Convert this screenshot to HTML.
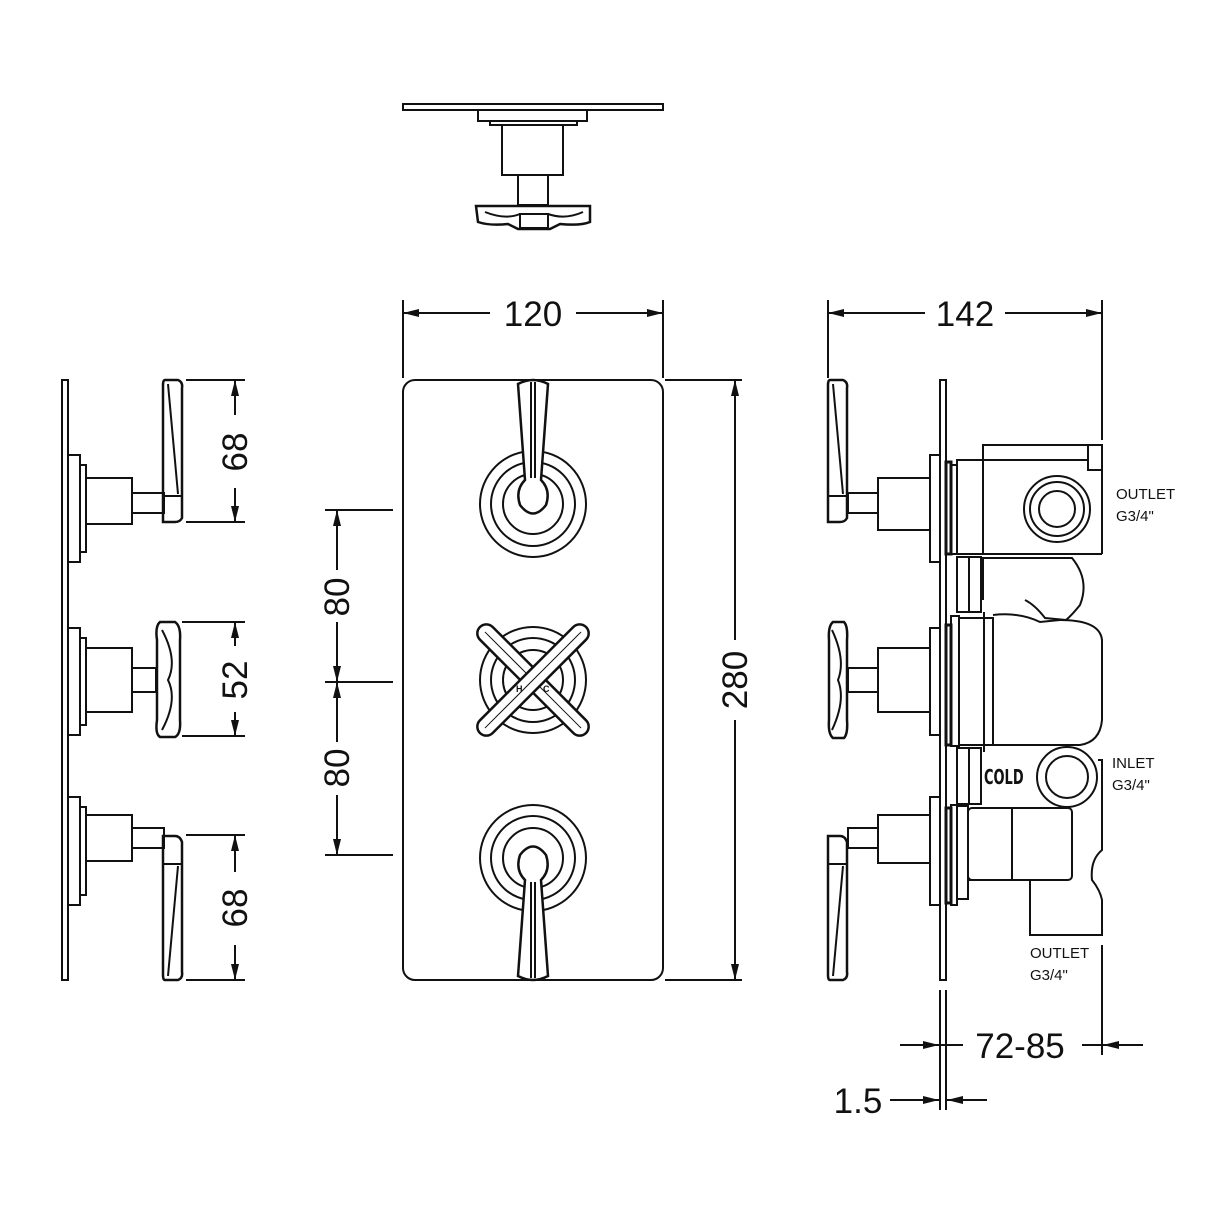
<!DOCTYPE html>
<html><head><meta charset="utf-8"><style>
html,body{margin:0;padding:0;background:#fff}
svg{display:block}
text{font-family:"Liberation Sans",sans-serif;fill:#111}
</style></head><body>
<svg width="1214" height="1214" viewBox="0 0 1214 1214" xmlns="http://www.w3.org/2000/svg">
<defs>
<marker id="b" viewBox="0 0 10 10" refX="10" refY="5" markerWidth="16" markerHeight="16" orient="auto-start-reverse" markerUnits="userSpaceOnUse"><path d="M0,2.5 L10,5 L0,7.5 z" fill="#111"/></marker>
</defs>
<g fill="none" stroke="#111" stroke-width="2">
<!-- TOP VIEW -->
<rect x="403" y="104" width="260" height="6"/>
<rect x="478" y="110" width="109" height="11"/>
<rect x="490" y="121" width="87" height="4"/>
<rect x="502" y="125" width="61" height="50"/>
<rect x="518" y="175" width="30" height="30"/>
<path d="M476,206 L590,206 L590,222 Q580,226 560,224 L550,229 L518,229 L508,224 Q490,226 478,222 Z" stroke-width="2.5"/>
<path d="M485,212 Q505,220 520,214 M548,214 Q565,220 583,212"/>
<rect x="520" y="214" width="28" height="14"/>

<!-- FRONT VIEW -->
<rect x="403" y="380" width="260" height="600" rx="12"/>
<circle cx="533" cy="504" r="53"/><circle cx="533" cy="504" r="42"/><circle cx="533" cy="504" r="30"/>
<path d="M518,384 Q533,376 548,384 L541,480 Q551,490 546,505 Q533,522 520,505 Q515,490 525,480 Z" fill="#fff" stroke-width="2.5"/>
<line x1="531" y1="382" x2="531" y2="478"/><line x1="535" y1="382" x2="535" y2="478"/>
<circle cx="533" cy="680" r="53"/><circle cx="533" cy="680" r="42"/><circle cx="533" cy="680" r="30"/>
<g transform="translate(533,680) rotate(45)"><rect x="-75" y="-9" width="150" height="18" rx="9" fill="#fff" stroke-width="2.5"/><line x1="-68" y1="0" x2="68" y2="0" stroke-width="1"/></g>
<g transform="translate(533,680) rotate(-45)"><rect x="-75" y="-9" width="150" height="18" rx="9" fill="#fff" stroke-width="2.5"/><line x1="-68" y1="0" x2="68" y2="0" stroke-width="1"/></g>
<circle cx="533" cy="858" r="53"/><circle cx="533" cy="858" r="42"/><circle cx="533" cy="858" r="30"/>
<path d="M518,976 Q533,984 548,976 L541,880 Q551,870 546,855 Q533,838 520,855 Q515,870 525,880 Z" fill="#fff" stroke-width="2.5"/>
<line x1="531" y1="978" x2="531" y2="882"/><line x1="535" y1="978" x2="535" y2="882"/>

<!-- front dims -->
<line x1="403" y1="300" x2="403" y2="378"/><line x1="663" y1="300" x2="663" y2="378"/>
<line x1="403" y1="313" x2="490" y2="313" marker-start="url(#b)"/><line x1="576" y1="313" x2="663" y2="313" marker-end="url(#b)"/>
<line x1="665" y1="380" x2="742" y2="380"/><line x1="665" y1="980" x2="742" y2="980"/>
<line x1="735" y1="380" x2="735" y2="640" marker-start="url(#b)"/><line x1="735" y1="720" x2="735" y2="980" marker-end="url(#b)"/>
<line x1="325" y1="510" x2="393" y2="510"/><line x1="325" y1="682" x2="393" y2="682"/><line x1="325" y1="855" x2="393" y2="855"/>
<line x1="337" y1="510" x2="337" y2="570" marker-start="url(#b)"/><line x1="337" y1="622" x2="337" y2="682" marker-end="url(#b)"/>
<line x1="337" y1="682" x2="337" y2="742" marker-start="url(#b)"/><line x1="337" y1="795" x2="337" y2="855" marker-end="url(#b)"/>

<!-- LEFT SIDE VIEW -->
<rect x="62" y="380" width="6" height="600"/>
<rect x="68" y="455" width="12" height="107"/><rect x="80" y="465" width="6" height="87"/><rect x="86" y="478" width="46" height="46"/><rect x="132" y="493" width="32" height="20"/>
<path d="M165,380 L178,380 Q183,382 182,388 L182,518 Q180,522 175,522 L163,522 L163,385 Q163,380 165,380 Z" stroke-width="2.5"/><line x1="168" y1="384" x2="178" y2="494"/><line x1="163" y1="496" x2="182" y2="496"/>
<rect x="68" y="628" width="12" height="107"/><rect x="80" y="638" width="6" height="87"/><rect x="86" y="648" width="46" height="64"/><rect x="132" y="668" width="24" height="24"/>
<path d="M160,622 L175,622 Q181,626 180,640 L180,720 Q181,734 175,737 L160,737 Q155,734 157,720 L157,640 Q155,626 160,622 Z" stroke-width="2.5"/><path d="M162,630 Q178,660 168,680 Q178,700 162,730"/>
<rect x="68" y="797" width="12" height="108"/><rect x="80" y="807" width="6" height="88"/><rect x="86" y="815" width="46" height="46"/><rect x="132" y="828" width="32" height="20"/>
<path d="M165,980 L178,980 Q183,978 182,972 L182,842 Q180,836 175,836 L163,836 L163,975 Q163,980 165,980 Z" stroke-width="2.5"/><line x1="168" y1="976" x2="178" y2="866"/><line x1="163" y1="864" x2="182" y2="864"/>
<!-- left dims -->
<line x1="186" y1="380" x2="245" y2="380"/><line x1="186" y1="522" x2="245" y2="522"/>
<line x1="235" y1="380" x2="235" y2="415" marker-start="url(#b)"/><line x1="235" y1="488" x2="235" y2="522" marker-end="url(#b)"/>
<line x1="182" y1="622" x2="245" y2="622"/><line x1="182" y1="736" x2="245" y2="736"/>
<line x1="235" y1="622" x2="235" y2="646" marker-start="url(#b)"/><line x1="235" y1="712" x2="235" y2="736" marker-end="url(#b)"/>
<line x1="186" y1="835" x2="245" y2="835"/><line x1="186" y1="980" x2="245" y2="980"/>
<line x1="235" y1="835" x2="235" y2="872" marker-start="url(#b)"/><line x1="235" y1="945" x2="235" y2="980" marker-end="url(#b)"/>

<!-- RIGHT SIDE VIEW -->
<rect x="940" y="380" width="6" height="600"/>
<line x1="940" y1="990" x2="940" y2="1110"/><line x1="946" y1="990" x2="946" y2="1110"/>
<path d="M830,380 L843,380 Q848,382 847,388 L847,518 Q845,522 840,522 L828,522 L828,385 Q828,380 830,380 Z" stroke-width="2.5"/><line x1="833" y1="384" x2="843" y2="494"/><line x1="828" y1="496" x2="847" y2="496"/>
<rect x="848" y="493" width="30" height="20"/><rect x="878" y="478" width="52" height="52"/><rect x="930" y="455" width="10" height="107"/>
<path d="M833,622 L844,622 Q848,626 847,640 L847,720 Q848,734 844,738 L833,738 Q828,734 829,720 L829,640 Q828,626 833,622 Z" stroke-width="2.5"/><path d="M832,630 Q846,660 838,680 Q846,700 832,730"/>
<rect x="848" y="668" width="30" height="24"/><rect x="878" y="648" width="52" height="64"/><rect x="930" y="628" width="10" height="107"/>
<path d="M830,980 L843,980 Q848,978 847,972 L847,842 Q845,836 840,836 L828,836 L828,975 Q828,980 830,980 Z" stroke-width="2.5"/><line x1="833" y1="976" x2="843" y2="866"/><line x1="828" y1="864" x2="847" y2="864"/>
<rect x="848" y="828" width="30" height="20"/><rect x="878" y="815" width="52" height="48"/><rect x="930" y="797" width="10" height="108"/>
<!-- valve body -->
<rect x="946" y="462" width="5" height="92" stroke-width="3"/><rect x="951" y="465" width="6" height="89"/>
<rect x="957" y="460" width="26" height="94"/>
<path d="M983,554 L983,445 L1102,445 L1102,554"/>
<rect x="1088" y="445" width="14" height="25"/>
<line x1="983" y1="460" x2="1088" y2="460"/>
<circle cx="1057" cy="509" r="33"/><circle cx="1057" cy="509" r="27"/><circle cx="1057" cy="509" r="18"/>
<line x1="957" y1="554" x2="1102" y2="554"/>
<rect x="957" y="557" width="12" height="55"/><rect x="969" y="557" width="12" height="55"/>
<path d="M983,600 L983,558 L1072,558 Q1090,580 1080,605 Q1072,615 1066,620 L1045,618 Q1035,605 1025,600"/>
<path d="M1060,620 Q1100,620 1102,640 L1102,720 Q1100,742 1080,745 L990,745"/>
<path d="M993,615 Q1020,612 1040,622 L1060,620"/>
<rect x="946" y="625" width="5" height="120" stroke-width="3"/><rect x="951" y="616" width="8" height="130"/>
<rect x="959" y="618" width="34" height="127"/><line x1="993" y1="630" x2="993" y2="735"/><line x1="984" y1="612" x2="984" y2="752"/>
<rect x="957" y="748" width="12" height="56"/><rect x="969" y="748" width="12" height="56"/>
<circle cx="1067" cy="777" r="30"/><circle cx="1067" cy="777" r="21"/>
<path d="M1098,760 L1102,760 L1102,850 Q1090,860 1092,880 Q1100,890 1102,900 L1102,935 L1030,935 L1030,880 L968,880"/>
<rect x="946" y="808" width="5" height="95" stroke-width="3"/><rect x="951" y="805" width="6" height="100"/>
<rect x="957" y="806" width="11" height="93"/>
<rect x="968" y="808" width="104" height="72" rx="4"/><line x1="1012" y1="808" x2="1012" y2="880"/>
<!-- right dims -->
<line x1="828" y1="300" x2="828" y2="378"/><line x1="1102" y1="300" x2="1102" y2="440"/>
<line x1="828" y1="313" x2="925" y2="313" marker-start="url(#b)"/><line x1="1005" y1="313" x2="1102" y2="313" marker-end="url(#b)"/>
<line x1="1102" y1="945" x2="1102" y2="1055"/>
<line x1="900" y1="1045" x2="939" y2="1045" marker-end="url(#b)"/><line x1="940" y1="1045" x2="963" y2="1045"/>
<line x1="1143" y1="1045" x2="1103" y2="1045" marker-end="url(#b)"/><line x1="1082" y1="1045" x2="1102" y2="1045"/>
<line x1="890" y1="1100" x2="939" y2="1100" marker-end="url(#b)"/>
<line x1="987" y1="1100" x2="947" y2="1100" marker-end="url(#b)"/>
</g>
<g font-size="35" text-anchor="middle">
<text x="533" y="326">120</text>
<text x="965" y="326">142</text>
<text x="1020" y="1058">72-85</text>
<text x="858" y="1113">1.5</text>
<text transform="translate(747,680) rotate(-90)">280</text>
<text transform="translate(349,597) rotate(-90)">80</text>
<text transform="translate(349,768) rotate(-90)">80</text>
<text transform="translate(247,452) rotate(-90)">68</text>
<text transform="translate(247,680) rotate(-90)">52</text>
<text transform="translate(247,908) rotate(-90)">68</text>
</g>
<g font-size="15">
<text x="1116" y="499">OUTLET</text><text x="1116" y="521">G3/4"</text>
<text x="1112" y="768">INLET</text><text x="1112" y="790">G3/4"</text>
<text x="1030" y="958">OUTLET</text><text x="1030" y="980">G3/4"</text>
</g>
<text x="984" y="784" font-size="17" font-weight="bold" style="font-family:'DejaVu Sans Condensed','Liberation Sans Narrow',sans-serif" transform="translate(984,784) scale(0.85,1.2) translate(-984,-784)">COLD</text>
<text x="516" y="692" font-size="9" font-weight="bold">H</text><text x="543" y="692" font-size="9" font-weight="bold">C</text>
</svg>
</body></html>
